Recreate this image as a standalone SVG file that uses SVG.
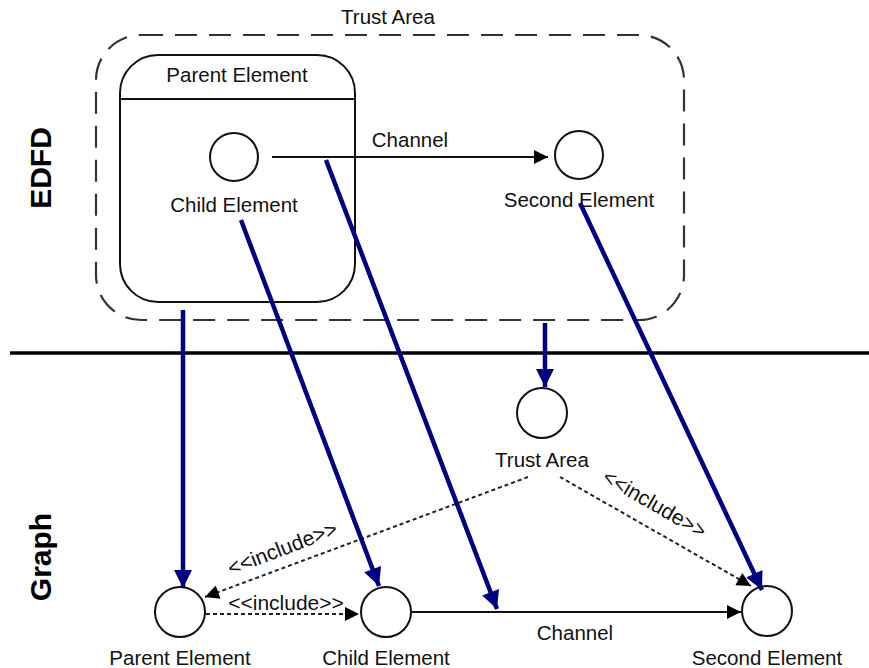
<svg xmlns="http://www.w3.org/2000/svg" width="869" height="668" viewBox="0 0 869 668">
<defs>
<marker id="abk" viewBox="0 0 10 10" refX="10" refY="5" markerWidth="22" markerHeight="14" markerUnits="userSpaceOnUse" orient="auto"><path d="M0,0 L10,5 L0,10 z" fill="#000"/></marker>
<marker id="anv" viewBox="0 0 10 10" refX="10" refY="5" markerWidth="26" markerHeight="18" markerUnits="userSpaceOnUse" orient="auto"><path d="M0,0 L10,5 L0,10 z" fill="#000080"/></marker>
</defs>
<style>
text{font-family:"Liberation Sans",Arial,sans-serif;font-size:20.5px;fill:#111;text-anchor:middle}
.big{font-size:30px;font-weight:bold;fill:#000}
.inctx{font-size:21px}
.node{fill:#fff;stroke:#111;stroke-width:2}
.ln{stroke:#111;stroke-width:2;fill:none}
.inc{stroke:#222;stroke-width:2;stroke-dasharray:4,3;fill:none}
.blue{stroke:#000080;stroke-width:4.5;fill:none}
</style>
<rect width="869" height="668" fill="#fff"/>
<text class="big" transform="translate(51,168) rotate(-90)">EDFD</text>
<text class="big" transform="translate(51,557) rotate(-90)">Graph</text>
<line x1="10" y1="353" x2="869" y2="353" stroke="#000" stroke-width="3.5"/>
<g id="trust-area-box">
<rect x="96" y="35" width="588" height="285" rx="45" fill="none" stroke="#333" stroke-width="2.2" stroke-dasharray="22,12"/>
<text x="388" y="24">Trust Area</text>
</g>
<g id="parent-element-box">
<rect x="120" y="55" width="235" height="247" rx="38" class="node" fill="none"/>
<line x1="120" y1="99" x2="355" y2="99" class="ln"/>
<text x="237" y="82">Parent Element</text>
</g>
<g id="child-element">
<circle cx="234" cy="157" r="24" class="node"/>
<text x="234" y="212">Child Element</text>
</g>
<g id="second-element">
<circle cx="579" cy="155" r="24" class="node"/>
<text x="579" y="207">Second Element</text>
</g>
<g id="g-trust-area">
<circle cx="542" cy="413" r="25" class="node"/>
<text x="542" y="467">Trust Area</text>
</g>
<g id="g-parent">
<circle cx="180" cy="612" r="25" class="node"/>
<text x="180" y="665">Parent Element</text>
</g>
<g id="g-child">
<circle cx="386" cy="612" r="25" class="node"/>
<text x="386" y="665">Child Element</text>
</g>
<g id="g-second">
<circle cx="767" cy="611" r="25" class="node"/>
<text x="767" y="665">Second Element</text>
</g>
<g id="connectors">
<line x1="272" y1="157" x2="548" y2="157" class="ln" marker-end="url(#abk)"/>
<text x="410" y="147">Channel</text>
<line x1="411" y1="612" x2="741" y2="612" class="ln" marker-end="url(#abk)"/>
<text x="575" y="640">Channel</text>
<line x1="206" y1="614" x2="359" y2="614" class="inc" marker-end="url(#abk)"/>
<text class="inctx" x="286" y="610">&lt;&lt;include&gt;&gt;</text>
<line x1="528" y1="477" x2="205" y2="597" class="inc" marker-end="url(#abk)"/>
<text class="inctx" transform="translate(285,555) rotate(-21)">&lt;&lt;include&gt;&gt;</text>
<line x1="560" y1="477" x2="751" y2="586" class="inc" marker-end="url(#abk)"/>
<text class="inctx" transform="translate(651,510) rotate(30)">&lt;&lt;include&gt;&gt;</text>
<line x1="183" y1="310" x2="183" y2="588" class="blue" marker-end="url(#anv)"/>
<line x1="241" y1="220" x2="379" y2="586" class="blue" marker-end="url(#anv)"/>
<line x1="326" y1="160" x2="497" y2="609" class="blue" marker-end="url(#anv)"/>
<line x1="545" y1="323" x2="545" y2="387" class="blue" marker-end="url(#anv)"/>
<line x1="580" y1="203" x2="762" y2="590" class="blue" marker-end="url(#anv)"/>
</g>
</svg>
